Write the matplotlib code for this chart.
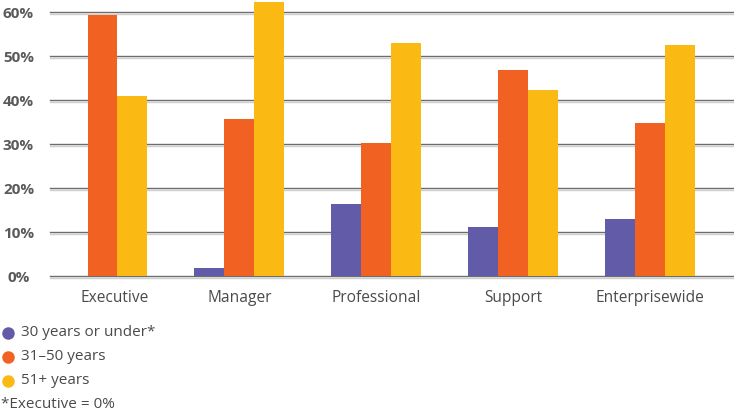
import matplotlib
matplotlib.use("Agg")
import matplotlib.pyplot as plt
import matplotlib.patheffects as pe
from matplotlib.lines import Line2D
from matplotlib.transforms import ScaledTranslation
import numpy as np

plt.rcParams['font.family'] = ['Open Sans', 'DejaVu Sans']

categories = ["Executive", "Manager", "Professional", "Support", "Enterprisewide"]
series_names = ["30 years or under*", "31\u201350 years", "51+ years"]
under_30 = [0.0, 1.8, 16.4, 11.2, 13.0]
age_31_50 = [59.4, 35.8, 30.3, 46.9, 34.9]
age_51_plus = [40.9, 62.4, 53.1, 42.4, 52.6]
y_ticks = [0, 10, 20, 30, 40, 50, 60]
footnote = "*Executive = 0%"

colors = ["#625BA8", "#F06122", "#FBBA13"]
text_color = "#4a4a4a"
grid_color = "#6c6c6c"

fig = plt.figure(figsize=(7.34, 4.13), dpi=100)
ax = fig.add_axes([50 / 734, (413 - 276) / 413, 684 / 734, 276 / 413])

x = np.arange(len(categories))
w = 0.219
for k, vals in enumerate([under_30, age_31_50, age_51_plus]):
    ax.bar(x + (k - 1) * w, vals, width=w, color=colors[k], zorder=3, linewidth=0)

# horizontal gridlines with a faint shadow underneath
for t in y_ticks:
    ax.axhline(t, color=grid_color, lw=1.0, zorder=1, clip_on=False,
               path_effects=[pe.SimpleLineShadow(offset=(0, -1.2), shadow_color="#cfcfcf", alpha=1.0),
                             pe.Normal()])

ax.set_ylim(0, 62.8)
ax.set_xlim(-0.384, 4.617)
for s in ax.spines.values():
    s.set_visible(False)

ax.set_yticks(y_ticks)
ax.set_yticklabels([f"{t}%" for t in y_ticks], fontsize=11, fontweight="bold",
                   color="#5a5a5a", ha="center")
ax.tick_params(axis="y", length=0, pad=22.7)

ax.set_xticks(x)
ax.set_xticklabels(categories, fontsize=11.2, color=text_color)
ax.tick_params(axis="x", length=0, pad=10)
first = ax.get_xticklabels()[0]
first.set_transform(first.get_transform() + ScaledTranslation(12 / 100, 0, fig.dpi_scale_trans))

# legend rows with round markers
rows_y = [333, 357, 381]
for name, c, yy in zip(series_names, colors, rows_y):
    fy = 1 - yy / 413
    fig.add_artist(Line2D([7.5 / 734], [fy], marker="o", markersize=9, color=c,
                          markeredgewidth=0, linestyle="none", transform=fig.transFigure))
    fig.text(21 / 734, fy, name, fontsize=11, color=text_color, va="center", ha="left")
fig.text(1 / 734, 1 - 404 / 413, footnote, fontsize=11, color=text_color, va="center", ha="left")

fig.savefig("out.png", dpi=100)
